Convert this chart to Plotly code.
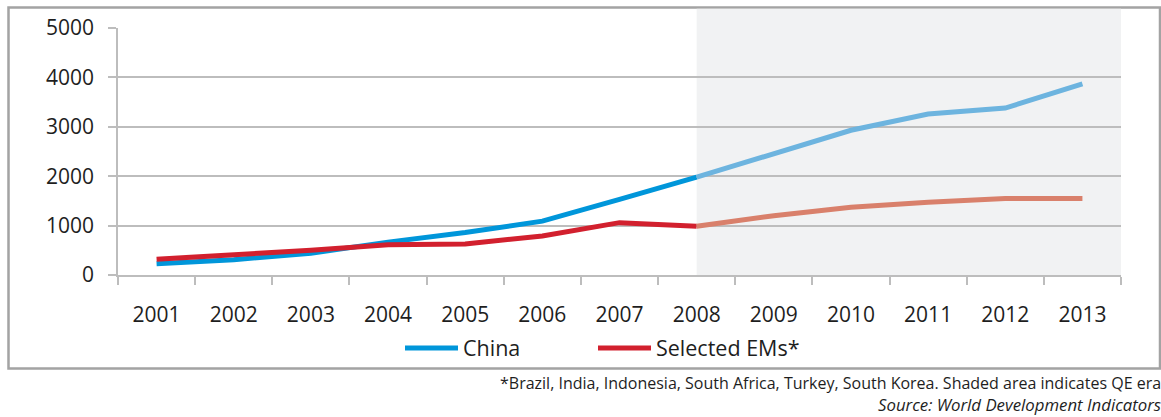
import plotly.graph_objects as go

# Annual values, 2001-2013
years = ["2001", "2002", "2003", "2004", "2005", "2006", "2007",
         "2008", "2009", "2010", "2011", "2012", "2013"]
china = [230, 310, 440, 665, 860, 1090, 1530, 1980, 2460, 2930, 3260, 3380, 3870]
selected_ems = [320, 400, 500, 610, 630, 790, 1060, 985, 1200, 1370, 1475, 1550, 1550]

y_ticks = [0, 1000, 2000, 3000, 4000, 5000]
qe_start = "2008"

footnote = "*Brazil, India, Indonesia, South Africa, Turkey, South Korea. Shaded area indicates QE era"
source = "Source: World Development Indicators"

W, H = 1161, 417
L, R, T, B = 118, 40, 28, 142
plot_w = W - L - R
plot_h = H - T - B

FONT = "Open Sans"
GRID = "#BDBDBD"
TEXT = "#1E1E1E"
BLUE, BLUE_QE = "#0096DA", "#6DB4DF"
RED, RED_QE = "#D2202E", "#D9806B"


def px_x(p):
    return (p - L) / plot_w


def px_y(p):
    return (H - B - p) / plot_h


q = years.index(qe_start)

fig = go.Figure()
# pre-QE part of each series carries the legend entry
fig.add_trace(go.Scatter(x=years[:q + 1], y=china[:q + 1], name="China", mode="lines",
                         legendgroup="china", legend="legend",
                         line=dict(color=BLUE, width=5)))
fig.add_trace(go.Scatter(x=years[:q + 1], y=selected_ems[:q + 1], name="Selected EMs*",
                         mode="lines", legendgroup="ems", legend="legend2",
                         line=dict(color=RED, width=5)))
# QE era part, drawn in a paler tone
fig.add_trace(go.Scatter(x=years[q:], y=china[q:], name="China", mode="lines",
                         legendgroup="china", showlegend=False,
                         line=dict(color=BLUE_QE, width=5)))
fig.add_trace(go.Scatter(x=years[q:], y=selected_ems[q:], name="Selected EMs*", mode="lines",
                         legendgroup="ems", showlegend=False,
                         line=dict(color=RED_QE, width=5)))

shapes = [
    # outer frame
    dict(type="rect", xref="paper", yref="paper",
         x0=px_x(8.5), x1=px_x(1160), y0=px_y(368.5), y1=px_y(7.5),
         line=dict(color="#A3A3A3", width=2.5), fillcolor="rgba(0,0,0,0)", layer="below"),
    # QE era shading
    dict(type="rect", xref="x", yref="paper",
         x0=q, x1=len(years) - 0.5, y0=0, y1=px_y(8.8),
         line=dict(width=0), fillcolor="#F1F2F3", layer="below"),
]

annotations = [
    dict(text=footnote, xref="paper", yref="paper", x=px_x(1163), y=px_y(383),
         xanchor="right", yanchor="middle", showarrow=False,
         font=dict(family=FONT, size=16, color=TEXT)),
    dict(text="<i>" + source + "</i>", xref="paper", yref="paper", x=px_x(1163), y=px_y(405),
         xanchor="right", yanchor="middle", showarrow=False,
         font=dict(family=FONT, size=16.8, color=TEXT)),
]

legend_style = dict(orientation="h", xanchor="left", yanchor="middle", y=px_y(348),
                    font=dict(family=FONT, size=21.5, color=TEXT),
                    bgcolor="rgba(0,0,0,0)", itemwidth=53)

fig.update_layout(
    width=W, height=H,
    margin=dict(l=L, r=R, t=T, b=B, pad=0),
    paper_bgcolor="white", plot_bgcolor="rgba(0,0,0,0)",
    font=dict(family=FONT, size=21, color=TEXT),
    showlegend=True,
    legend=dict(x=px_x(400), **legend_style),
    legend2=dict(x=px_x(593), **legend_style),
    shapes=shapes,
    annotations=annotations,
)

fig.update_xaxes(type="category", range=[-0.5, len(years) - 0.5],
                 tickson="boundaries", ticks="outside", ticklen=8, tickwidth=1.5,
                 tickcolor=GRID, showline=True, linecolor=GRID, linewidth=1.5,
                 showgrid=False, zeroline=False, ticklabelstandoff=20,
                 tickfont=dict(family=FONT, size=21, color=TEXT))
fig.update_yaxes(range=[0, 5000], tickvals=y_ticks, ticks="outside", ticklen=8,
                 tickwidth=1.5, tickcolor=GRID, showline=True, linecolor=GRID,
                 linewidth=1.5, showgrid=True, gridcolor=GRID, gridwidth=1.5,
                 zeroline=False, ticklabelstandoff=10,
                 tickfont=dict(family=FONT, size=21, color=TEXT))

fig.write_html("out.html")
